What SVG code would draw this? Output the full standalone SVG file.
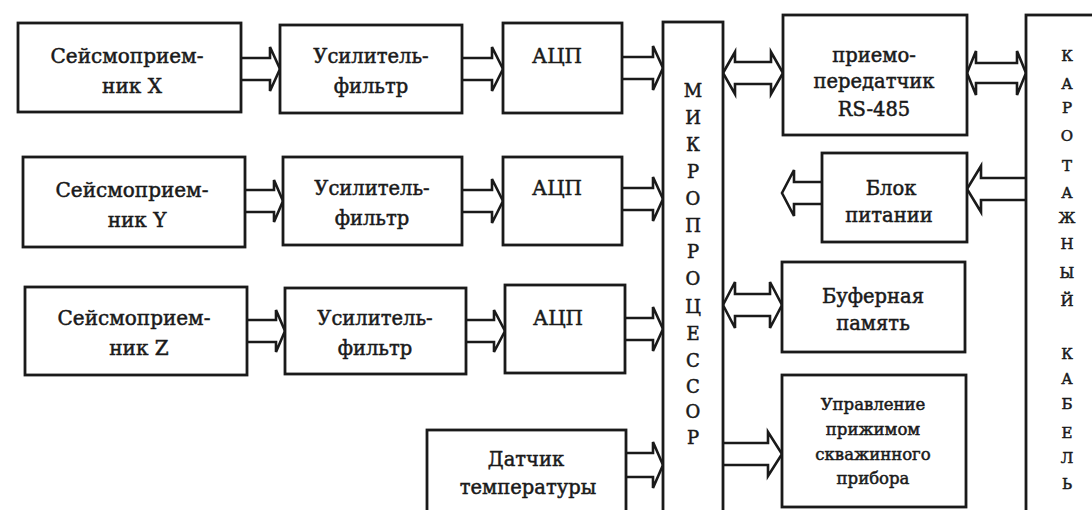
<svg xmlns="http://www.w3.org/2000/svg" width="1092" height="510" viewBox="0 0 1092 510">
  <style>
    .box { fill: #ffffff; stroke: #1a1a1a; stroke-width: 2.8; }
    .arr { fill: #ffffff; stroke: #1a1a1a; stroke-width: 2.6; stroke-linejoin: miter; }
    .lbl { font-family: "DejaVu Serif", "Liberation Serif", serif; fill: #1a1a1a; stroke: #1a1a1a; stroke-width: 0.5; text-anchor: middle; }
    .t24 { font-size: 20px; }
    .t22 { font-size: 19.5px; }
    .t19 { font-size: 16.5px; }
    .v20 { font-size: 18px; }
    .v17 { font-size: 15px; }
  </style>
  <rect width="1092" height="510" fill="#ffffff"/>

  <!-- connectors: hollow bus arrows -->
  <g id="connectors">
    <!-- seismic sensors to amplifier-filters -->
    <path class="arr" d="M241,58 H270 V47 L280,69 L270,91 V80 H241"/>
    <path class="arr" d="M245,190 H274 V180 L283,201 L274,222 V212 H245"/>
    <path class="arr" d="M247,320 H276 V310 L285,331 L276,352 V342 H247"/>
    <!-- amplifier-filters to ADCs -->
    <path class="arr" d="M462,58 H492 V47 L503,69 L492,91 V80 H462"/>
    <path class="arr" d="M462,190 H492 V179 L503,201 L492,223 V212 H462"/>
    <path class="arr" d="M466,320 H494 V310 L505,331 L494,352 V342 H466"/>
    <!-- ADCs to microprocessor -->
    <path class="arr" d="M622,57 H653 V46 L663,68 L653,90 V79 H622"/>
    <path class="arr" d="M622,188 H653 V177 L663,199 L653,221 V210 H622"/>
    <path class="arr" d="M625,318 H653 V307 L663,329 L653,351 V340 H625"/>
    <!-- temperature sensor to microprocessor -->
    <path class="arr" d="M626,453 H653 V442 L663,465 L653,488 V477 H626"/>
    <!-- microprocessor <-> RS-485 transceiver -->
    <path class="arr" d="M723,73 L735,52 V62 H771 V52 L783,73 L771,94 V84 H735 V94 Z"/>
    <!-- RS-485 transceiver <-> logging cable -->
    <path class="arr" d="M967,73 L976,51 V63 H1017 V51 L1026,73 L1017,95 V83 H976 V95 Z"/>
    <!-- logging cable to power supply -->
    <path class="arr" d="M1026,178 H981 V166 L967,189 L981,212 V200 H1026"/>
    <!-- power supply output -->
    <path class="arr" d="M822,182 H794 V170 L782,193 L794,216 V204 H822"/>
    <!-- microprocessor <-> buffer memory -->
    <path class="arr" d="M723,305 L735,282 V294 H770 V282 L782,305 L770,328 V316 H735 V328 Z"/>
    <!-- microprocessor to clamp control -->
    <path class="arr" d="M723,443 H768 V432 L782,454 L768,476 V465 H723"/>
  </g>

  <g id="seismo-x">
    <rect class="box" x="18" y="23" width="223" height="89"/>
    <text class="lbl t24" x="127" y="63">Сейсмоприем-</text>
    <text class="lbl t24" x="132" y="93">ник X</text>
  </g>
  <g id="seismo-y">
    <rect class="box" x="23" y="157" width="222" height="90"/>
    <text class="lbl t24" x="132" y="197">Сейсмоприем-</text>
    <text class="lbl t24" x="137" y="227">ник Y</text>
  </g>
  <g id="seismo-z">
    <rect class="box" x="25" y="287" width="222" height="88"/>
    <text class="lbl t24" x="134" y="325">Сейсмоприем-</text>
    <text class="lbl t24" x="139" y="355">ник Z</text>
  </g>

  <g id="amp-x">
    <rect class="box" x="280" y="25" width="182" height="88"/>
    <text class="lbl t22" x="371" y="63">Усилитель-</text>
    <text class="lbl t22" x="371" y="93">фильтр</text>
  </g>
  <g id="amp-y">
    <rect class="box" x="283" y="157" width="179" height="88"/>
    <text class="lbl t22" x="372" y="195">Усилитель-</text>
    <text class="lbl t22" x="372" y="225">фильтр</text>
  </g>
  <g id="amp-z">
    <rect class="box" x="285" y="288" width="181" height="86"/>
    <text class="lbl t22" x="375" y="325">Усилитель-</text>
    <text class="lbl t22" x="375" y="355">фильтр</text>
  </g>

  <g id="adc-x">
    <rect class="box" x="503" y="23" width="119" height="90"/>
    <text class="lbl t24" x="557" y="63">АЦП</text>
  </g>
  <g id="adc-y">
    <rect class="box" x="503" y="157" width="119" height="88"/>
    <text class="lbl t24" x="557" y="195">АЦП</text>
  </g>
  <g id="adc-z">
    <rect class="box" x="505" y="285" width="120" height="88"/>
    <text class="lbl t24" x="558" y="325">АЦП</text>
  </g>

  <g id="temp-sensor">
    <rect class="box" x="427" y="430" width="199" height="90"/>
    <text class="lbl t22" x="526" y="466">Датчик</text>
    <text class="lbl t22" x="528" y="494">температуры</text>
  </g>

  <g id="microprocessor">
    <rect class="box" x="663" y="22" width="60" height="498"/>
    <text class="lbl v20" x="693" y="97">М</text>
    <text class="lbl v20" x="693" y="124">И</text>
    <text class="lbl v20" x="693" y="151">К</text>
    <text class="lbl v20" x="693" y="178">Р</text>
    <text class="lbl v20" x="693" y="205">О</text>
    <text class="lbl v20" x="693" y="232">П</text>
    <text class="lbl v20" x="693" y="258">Р</text>
    <text class="lbl v20" x="693" y="285">О</text>
    <text class="lbl v20" x="693" y="313">Ц</text>
    <text class="lbl v20" x="693" y="340">Е</text>
    <text class="lbl v20" x="693" y="367">С</text>
    <text class="lbl v20" x="693" y="393">С</text>
    <text class="lbl v20" x="693" y="418">О</text>
    <text class="lbl v20" x="693" y="444">Р</text>
  </g>

  <g id="transceiver">
    <rect class="box" x="783" y="15" width="184" height="120"/>
    <text class="lbl t22" x="874" y="62">приемо-</text>
    <text class="lbl t22" x="874" y="88">передатчик</text>
    <text class="lbl t22" x="874" y="116">RS-485</text>
  </g>
  <g id="power-supply">
    <rect class="box" x="822" y="153" width="145" height="89"/>
    <text class="lbl t22" x="891" y="195">Блок</text>
    <text class="lbl t22" x="889" y="222">питании</text>
  </g>
  <g id="buffer-memory">
    <rect class="box" x="782" y="262" width="183" height="90"/>
    <text class="lbl t22" x="873" y="303">Буферная</text>
    <text class="lbl t22" x="873" y="330">память</text>
  </g>
  <g id="clamp-control">
    <rect class="box" x="782" y="375" width="184" height="132"/>
    <text class="lbl t19" x="873" y="410">Управление</text>
    <text class="lbl t19" x="873" y="435">прижимом</text>
    <text class="lbl t19" x="873" y="460">скважинного</text>
    <text class="lbl t19" x="873" y="484">прибора</text>
  </g>

  <g id="logging-cable">
    <rect class="box" x="1026" y="15" width="80" height="510"/>
    <text class="lbl v17" x="1067" y="61">К</text>
    <text class="lbl v17" x="1067" y="89">А</text>
    <text class="lbl v17" x="1067" y="113">Р</text>
    <text class="lbl v17" x="1067" y="141">О</text>
    <text class="lbl v17" x="1067" y="171">Т</text>
    <text class="lbl v17" x="1067" y="198">А</text>
    <text class="lbl v17" x="1067" y="223">Ж</text>
    <text class="lbl v17" x="1067" y="249">Н</text>
    <text class="lbl v17" x="1067" y="278">Ы</text>
    <text class="lbl v17" x="1067" y="306">Й</text>
    <text class="lbl v17" x="1067" y="359">К</text>
    <text class="lbl v17" x="1067" y="384">А</text>
    <text class="lbl v17" x="1067" y="409">Б</text>
    <text class="lbl v17" x="1067" y="438">Е</text>
    <text class="lbl v17" x="1067" y="463">Л</text>
    <text class="lbl v17" x="1067" y="489">Ь</text>
  </g>
</svg>
